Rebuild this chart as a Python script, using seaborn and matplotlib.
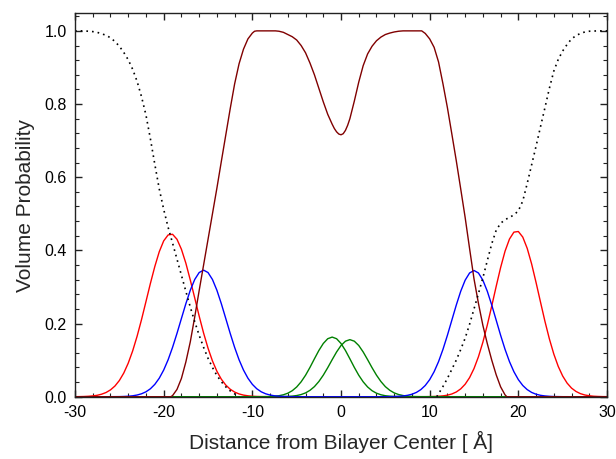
import matplotlib
matplotlib.use("Agg")
import matplotlib.pyplot as plt
import seaborn as sns
from matplotlib.ticker import FormatStrFormatter, MultipleLocator

# ── data (distance in Å, volume probability) ─────────────────────────────────
# phosphate-like groups (red), lower and upper leaflet
red_l_x = [-30, -29.5, -29, -28.5, -28, -27.5, -27, -26.5, -26, -25.5, -25,
           -24.5, -24, -23.5, -23, -22.5, -22, -21.5, -21, -20.5, -20, -19.5,
           -19, -18.5, -18, -17.5, -17, -16.5, -16, -15.5, -15, -14.5, -14,
           -13.5, -13, -12.5, -12, -11.5, -11, -10.5, -10, -9.5, -9, -8.5, -8]
red_l_y = [0.0001, 0.0003, 0.0006, 0.0012, 0.0022, 0.0039, 0.0069, 0.0115,
           0.0187, 0.0292, 0.0443, 0.0648, 0.0917, 0.1252, 0.1653, 0.2108,
           0.260, 0.3096, 0.356, 0.3963, 0.426, 0.4422, 0.444, 0.4303, 0.403,
           0.365, 0.319, 0.2699, 0.2205, 0.174, 0.1327, 0.0978, 0.0696, 0.0479,
           0.0319, 0.0205, 0.0127, 0.0076, 0.0044, 0.0025, 0.0013, 0.0007,
           0.0004, 0.0002, 0.0]
red_r_x = [8, 9, 9.5, 10, 10.5, 11, 11.5, 12, 12.5, 13, 13.5, 14, 14.5, 15,
           15.5, 16, 16.5, 17, 17.5, 18, 18.5, 19, 19.5, 20, 20.5, 21, 21.5, 22,
           22.5, 23, 23.5, 24, 24.5, 25, 25.5, 26, 26.5, 27, 27.5, 28, 28.5, 29,
           29.5, 30]
red_r_y = [0.0, 0.0001, 0.0001, 0.0003, 0.0006, 0.0012, 0.0023, 0.0042, 0.0075,
           0.0129, 0.0214, 0.0341, 0.0522, 0.077, 0.1093, 0.149, 0.196, 0.248,
           0.3016, 0.353, 0.3978, 0.431, 0.4499, 0.4516, 0.4363, 0.4055, 0.3627,
           0.312, 0.2586, 0.206, 0.158, 0.1166, 0.0828, 0.0566, 0.0372, 0.0235,
           0.0144, 0.0084, 0.0047, 0.0026, 0.0013, 0.0007, 0.0003, 0.0002]

# carbonyl-like groups (blue)
blue_x = [-30, -26.5, -26, -25.5, -25, -24.5, -24, -23.5, -23, -22.5, -22,
          -21.5, -21, -20.5, -20, -19.5, -19, -18.5, -18, -17.5, -17, -16.5,
          -16, -15.5, -15, -14.5, -14, -13.5, -13, -12.5, -12, -11.5, -11,
          -10.5, -10, -9.5, -9, -8.5, -8, -7.5, -7, -6.5, -6, -5.5, -5, -4.5,
          4, 4.5, 5, 5.5, 6, 6.5, 7, 7.5, 8, 8.5, 9, 9.5, 10, 10.5, 11, 11.5,
          12, 12.5, 13, 13.5, 14, 14.5, 15, 15.5, 16, 16.5, 17, 17.5, 18, 18.5,
          19, 19.5, 20, 20.5, 21, 21.5, 22, 22.5, 23, 23.5, 24, 24.5, 25, 25.5,
          26, 30]
blue_y = [0.0, 0.0, 0.0001, 0.0002, 0.0003, 0.0007, 0.0013, 0.0025, 0.0046,
          0.008, 0.0134, 0.0217, 0.0338, 0.0506, 0.0729, 0.101, 0.1349, 0.1732,
          0.2139, 0.2543, 0.291, 0.3204, 0.3394, 0.346, 0.3394, 0.3204, 0.291,
          0.2543, 0.2139, 0.1732, 0.1349, 0.101, 0.0729, 0.0506, 0.0338, 0.0217,
          0.0134, 0.008, 0.0046, 0.0025, 0.0013, 0.0007, 0.0003, 0.0002, 0.0001,
          0.0,
          0.0, 0.0001, 0.0001, 0.0003, 0.0005, 0.0011, 0.0021, 0.0038, 0.0068,
          0.0117, 0.0194, 0.0307, 0.0467, 0.0683, 0.0959, 0.1295, 0.168, 0.2093,
          0.2505, 0.2882, 0.3185, 0.3382, 0.345, 0.3382, 0.3185, 0.2882, 0.2505,
          0.2093, 0.168, 0.1295, 0.0959, 0.0683, 0.0467, 0.0307, 0.0194, 0.0117,
          0.0068, 0.0038, 0.0021, 0.0011, 0.0005, 0.0003, 0.0001, 0.0001, 0.0,
          0.0]

# terminal methyl groups (green), one per leaflet
green_x = [-19, -9, -8.5, -8, -7.5, -7, -6.5, -6, -5.5, -5, -4.5, -4, -3.5, -3,
           -2.5, -2, -1.5, -1, -0.5, 0, 0.5, 1, 1.5, 2, 2.5, 3, 3.5, 4, 4.5, 5,
           5.5, 6, 6.5, 7, 7.5, 8, 8.5, 9, 18.7]
green_a_y = [0.0, 0.0001, 0.0003, 0.0006, 0.0014, 0.0027, 0.0053, 0.0096, 0.0164,
             0.0266, 0.0407, 0.0587, 0.0802, 0.1036, 0.1263, 0.1455, 0.1585,
             0.163, 0.1585, 0.1455, 0.1263, 0.1036, 0.0802, 0.0587, 0.0407,
             0.0266, 0.0164, 0.0096, 0.0053, 0.0027, 0.0014, 0.0006, 0.0003,
             0.0001, 0.0, 0.0, 0.0, 0.0, 0.0]
green_b_y = [0.0, 0.0, 0.0, 0.0, 0.0001, 0.0002, 0.0004, 0.0008, 0.0016, 0.0032,
             0.0059, 0.0104, 0.0175, 0.0276, 0.0415, 0.0589, 0.0793, 0.1012,
             0.1223, 0.140, 0.1518, 0.156, 0.1518, 0.140, 0.1223, 0.1012, 0.0793,
             0.0589, 0.0415, 0.0275, 0.0175, 0.0104, 0.0059, 0.0032, 0.0016,
             0.0008, 0.0004, 0.0002, 0.0]

# hydrocarbon core (dark red)
core_x = [-30, -19.2, -19, -18.5, -18, -17.5, -17, -16.5, -16, -15.5, -15,
          -14.5, -14, -13.5, -13, -12.5, -12, -11.5, -11, -10.5, -10, -9.75,
          -9.5, -7.4, -7, -6.5, -6, -5.5, -5, -4.5, -4, -3.5, -3, -2.5, -2,
          -1.5, -1, -0.75, -0.5, -0.25, 0, 0.25, 0.5, 0.75, 1, 1.5, 2, 2.5, 3,
          3.5, 4, 4.5, 5, 5.5, 6, 6.5, 7, 9.1, 9.5, 10, 10.5, 11, 11.5, 12,
          12.5, 13, 13.5, 14, 14.5, 15, 15.5, 16, 16.5, 17, 17.5, 18, 18.5,
          18.7, 30]
core_y = [0.0, 0.0, 0.003, 0.02, 0.05, 0.095, 0.15, 0.218, 0.29, 0.36, 0.43,
          0.5, 0.57, 0.643, 0.715, 0.787, 0.855, 0.91, 0.95, 0.978, 0.994,
          0.999, 1.0, 1.0, 0.999, 0.996, 0.99, 0.984, 0.975, 0.96, 0.94, 0.912,
          0.88, 0.843, 0.806, 0.772, 0.745, 0.733, 0.724, 0.718, 0.716, 0.719,
          0.728, 0.742, 0.76, 0.808, 0.86, 0.905, 0.937, 0.958, 0.973, 0.983,
          0.99, 0.994, 0.997, 0.999, 1.0, 1.0, 0.993, 0.978, 0.955, 0.915,
          0.855, 0.79, 0.718, 0.645, 0.568, 0.49, 0.405, 0.322, 0.255, 0.195,
          0.145, 0.1, 0.06, 0.027, 0.005, 0.0, 0.0]

# water (dotted), outside the bilayer on each side
water_l_x = [-30, -29, -28.5, -28, -27.5, -27, -26.5, -26, -25.5, -25, -24.5,
             -24, -23.5, -23, -22.5, -22, -21.5, -21, -20.5, -20, -19.5, -19,
             -18.5, -18, -17.5, -17, -16.5, -16, -15.5, -15, -14.5, -14, -13.5,
             -13, -12.5, -12, -11.7, -11.5]
water_l_y = [1.0, 1.0, 0.999, 0.998, 0.996, 0.992, 0.988, 0.981, 0.971, 0.958,
             0.941, 0.921, 0.895, 0.862, 0.82, 0.77, 0.705, 0.635, 0.568, 0.512,
             0.463, 0.42, 0.376, 0.332, 0.288, 0.245, 0.205, 0.168, 0.135,
             0.105, 0.08, 0.058, 0.041, 0.027, 0.016, 0.008, 0.003, 0.0]
water_r_x = [10.8, 11, 11.5, 12, 12.5, 13, 13.5, 14, 14.5, 15, 15.5, 16, 16.5,
             17, 17.5, 18, 18.5, 19, 19.5, 20, 20.5, 21, 21.5, 22, 22.5, 23,
             23.5, 24, 24.5, 25, 25.5, 26, 26.5, 27, 27.5, 28, 29, 30]
water_r_y = [0.0, 0.008, 0.028, 0.05, 0.075, 0.1, 0.129, 0.16, 0.198, 0.24,
             0.282, 0.325, 0.372, 0.418, 0.455, 0.474, 0.484, 0.49, 0.497,
             0.508, 0.535, 0.583, 0.634, 0.685, 0.738, 0.79, 0.843, 0.89, 0.922,
             0.945, 0.963, 0.978, 0.987, 0.993, 0.997, 0.999, 1.0, 1.0]

# ── figure ───────────────────────────────────────────────────────────────────
sns.set_theme(style="ticks")
plt.rcParams.update({
    "font.family": ["Liberation Sans", "DejaVu Sans"],
    "axes.edgecolor": "#222222",
    "axes.linewidth": 1.0,
    "axes.unicode_minus": False,
})

fig = plt.figure(figsize=(6.16, 4.59), dpi=100)
ax = fig.add_axes([0.1218, 0.1357, 0.8636, 0.8353])

lw = 1.0
line_kw = dict(ax=ax, lw=lw, sort=False, estimator=None)
sns.lineplot(x=red_l_x, y=red_l_y, color="#ff0000", **line_kw)
sns.lineplot(x=red_r_x, y=red_r_y, color="#ff0000", **line_kw)
sns.lineplot(x=green_x, y=green_a_y, color="#008000", **line_kw)
sns.lineplot(x=green_x, y=green_b_y, color="#008000", **line_kw)
sns.lineplot(x=blue_x, y=blue_y, color="#0000ff", **line_kw)
sns.lineplot(x=core_x, y=core_y, color="#800000", **line_kw)
for wx, wy in [(water_l_x, water_l_y), (water_r_x, water_r_y)]:
    sns.lineplot(x=wx, y=wy, ax=ax, color="black", lw=1.2,
                 linestyle=(0, (1, 2.4)), sort=False, estimator=None)

ax.set_xlim(-30, 30)
ax.set_ylim(0, 1.048)
ax.xaxis.set_major_locator(MultipleLocator(10))
ax.xaxis.set_minor_locator(MultipleLocator(2))
ax.yaxis.set_major_locator(MultipleLocator(0.2))
ax.yaxis.set_minor_locator(MultipleLocator(0.04))
ax.yaxis.set_major_formatter(FormatStrFormatter("%.1f"))
ax.tick_params(which="both", direction="in", top=True, right=True,
               labelsize=11.5, colors="#222222", labelcolor="black")
ax.tick_params(which="major", length=5, width=1, pad=6)
ax.tick_params(which="minor", length=3, width=0.8)

ax.set_xlabel("Distance from Bilayer Center [ Å]", fontsize=15, labelpad=8)
ax.set_ylabel("Volume Probability", fontsize=15, labelpad=7)

plt.savefig("out.png", dpi=100)
